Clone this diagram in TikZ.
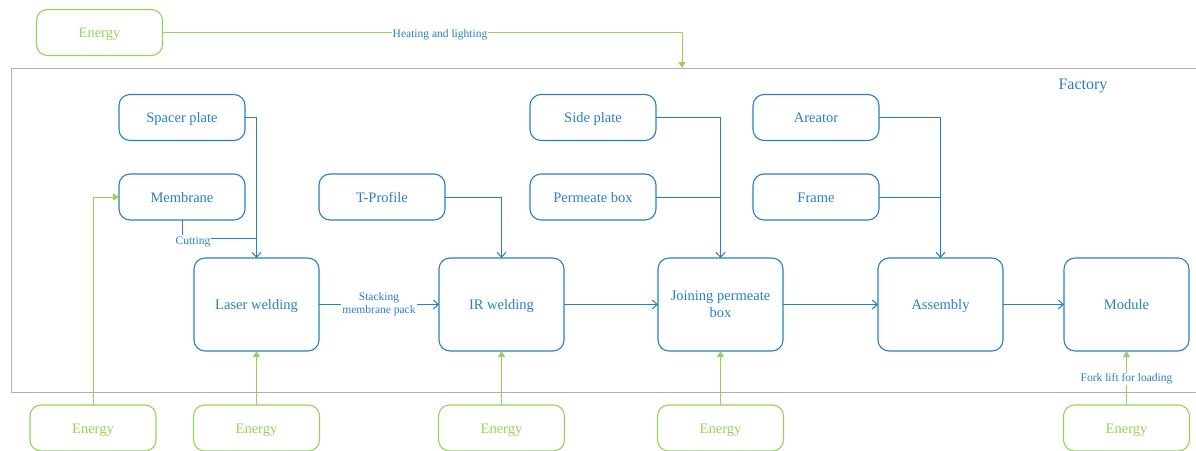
\documentclass[tikz,border=0pt]{standalone}
\usepackage{fontspec}
\setmainfont{Liberation Serif}
\usetikzlibrary{arrows.meta}
\definecolor{flowblue}{RGB}{40,126,200}
\definecolor{energygreen}{RGB}{150,210,90}
\definecolor{framegray}{RGB}{175,175,175}

\begin{document}
\begin{tikzpicture}[x=1pt,y=-1pt,
  box/.style={draw=flowblue, line width=1.1pt, rounded corners=11pt, text=flowblue,
    minimum width=126pt, minimum height=46pt, inner sep=0pt, outer sep=0pt,
    text height=12pt, text depth=2pt,
    align=center, font=\fontsize{14.5}{17}\selectfont},
  proc/.style={box, minimum width=125pt, minimum height=93pt},
  energy/.style={box, draw=energygreen, text=energygreen},
  flow/.style={draw=flowblue, line width=1pt, -{Straight Barb[length=5pt,width=9pt]}},
  link/.style={draw=flowblue, line width=1pt},
  feed/.style={draw=energygreen, line width=1pt, -{Triangle[length=6pt,width=7pt]}},
  tag/.style={fill=white, text=flowblue, inner sep=1pt, align=center,
    font=\fontsize{11.5}{13}\selectfont}
]
\useasboundingbox (0,0) rectangle (1196,450);

% factory outline, open to the right
\draw[framegray, line width=1pt] (1196,68) -- (11,68) -- (11,392) -- (1196,392);
\node[text=flowblue, font=\fontsize{16}{18}\selectfont] (factory) at (1083,86) {Factory};

% supplied parts
\node[box] (spacer)   at (182,117.5) {Spacer plate};
\node[box] (membrane) at (182,197)   {Membrane};
\node[box] (tprofile) at (382,197)   {T-Profile};
\node[box] (side)     at (593,117.5) {Side plate};
\node[box] (permeate) at (593,197)   {Permeate box};
\node[box] (areator)  at (816,117.5) {Areator};
\node[box] (frame)    at (816,197)   {Frame};

% process steps
\node[proc] (laser)    at (256.5,304.5)  {Laser welding};
\node[proc] (ir)       at (501.5,304.5)  {IR welding};
\node[proc, text height=28pt] (joining) at (720.5,304.5) {Joining permeate\\box};
\node[proc] (assembly) at (940.5,304.5)  {Assembly};
\node[proc] (module)   at (1126.5,304.5) {Module};

% energy sources
\node[energy] (etop) at (99.5,32.5) {Energy};
\node[energy] (e1)   at (93,428)    {Energy};
\node[energy] (e2)   at (256.5,428) {Energy};
\node[energy] (e3)   at (501.5,428) {Energy};
\node[energy] (e4)   at (720.5,428) {Energy};
\node[energy] (e5)   at (1126.5,428) {Energy};

% junction points
\coordinate (heatin)  at (682,68);
\coordinate (cutjoin) at (256.5,238);
\coordinate (sidejoin) at (720.5,197);
\coordinate (framejoin) at (940.5,197);

% heating and lighting
\draw[feed] (etop.east) -| (heatin);
\node[tag] (heatlbl) at (440,34.5) {Heating and lighting};

% laser welding inputs
\draw[flow] (spacer.east) -| (laser.north);
\draw[link] (membrane.south) |- (cutjoin);
\node[tag] (cutlbl) at (193,241.5) {Cutting};
\draw[feed] (e1.north) |- (membrane.west);
\draw[feed] (e2.north) -- (laser.south);

% IR welding
\draw[flow] (laser.east) -- (ir.west);
\node[tag] (stacklbl) at (379,304) {Stacking\\membrane pack};
\draw[flow] (tprofile.east) -| (ir.north);
\draw[feed] (e3.north) -- (ir.south);

% joining permeate box
\draw[flow] (side.east) -| (joining.north);
\draw[link] (permeate.east) -- (sidejoin);
\draw[flow] (ir.east) -- (joining.west);
\draw[feed] (e4.north) -- (joining.south);

% assembly
\draw[flow] (areator.east) -| (assembly.north);
\draw[link] (frame.east) -- (framejoin);
\draw[flow] (joining.east) -- (assembly.west);

% module
\draw[flow] (assembly.east) -- (module.west);
\draw[feed] (e5.north) -- (module.south);
\node[tag] (forklbl) at (1126.5,379) {Fork lift for loading};
\end{tikzpicture}
\end{document}
